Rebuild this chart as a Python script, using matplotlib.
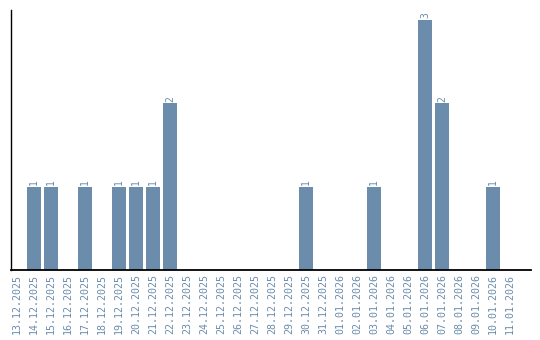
import matplotlib.pyplot as plt
import numpy as np

dates = ["13.12.2025", "14.12.2025", "15.12.2025", "16.12.2025", "17.12.2025",
         "18.12.2025", "19.12.2025", "20.12.2025", "21.12.2025", "22.12.2025",
         "23.12.2025", "24.12.2025", "25.12.2025", "26.12.2025", "27.12.2025",
         "28.12.2025", "29.12.2025", "30.12.2025", "31.12.2025", "01.01.2026",
         "02.01.2026", "03.01.2026", "04.01.2026", "05.01.2026", "06.01.2026",
         "07.01.2026", "08.01.2026", "09.01.2026", "10.01.2026", "11.01.2026"]
counts = [0, 1, 1, 0, 1, 0, 1, 1, 1, 2,
          0, 0, 0, 0, 0, 0, 0, 1, 0, 0,
          0, 1, 0, 0, 3, 2, 0, 0, 1, 0]

color = "#6b8cab"
font = "DejaVu Sans Mono"

fig = plt.figure(figsize=(5.4, 3.4), dpi=100)
ax = fig.add_axes([10.5 / 540, 70 / 340, 520 / 540, 260 / 340])

x = np.arange(len(dates))
ax.bar(x, counts, width=14 / 17, color=color)

# подписи значений над столбцами
for xi, c in zip(x, counts):
    if c > 0:
        ax.text(xi, c + 0.02, str(c), rotation=90, ha="center", va="bottom",
                color=color, fontsize=7, family=font)

ax.set_xlim(-0.382, 30.2)
ax.set_ylim(0, 3.12)
ax.set_xticks(x)
ax.set_xticklabels(dates, rotation=90, fontsize=7.2, family=font, color=color)
ax.tick_params(axis="x", length=0, pad=3)
ax.set_yticks([])
for s in ["top", "right"]:
    ax.spines[s].set_visible(False)
ax.spines["left"].set_linewidth(1.0)
ax.spines["bottom"].set_linewidth(1.3)

fig.savefig("out.png", dpi=100)
